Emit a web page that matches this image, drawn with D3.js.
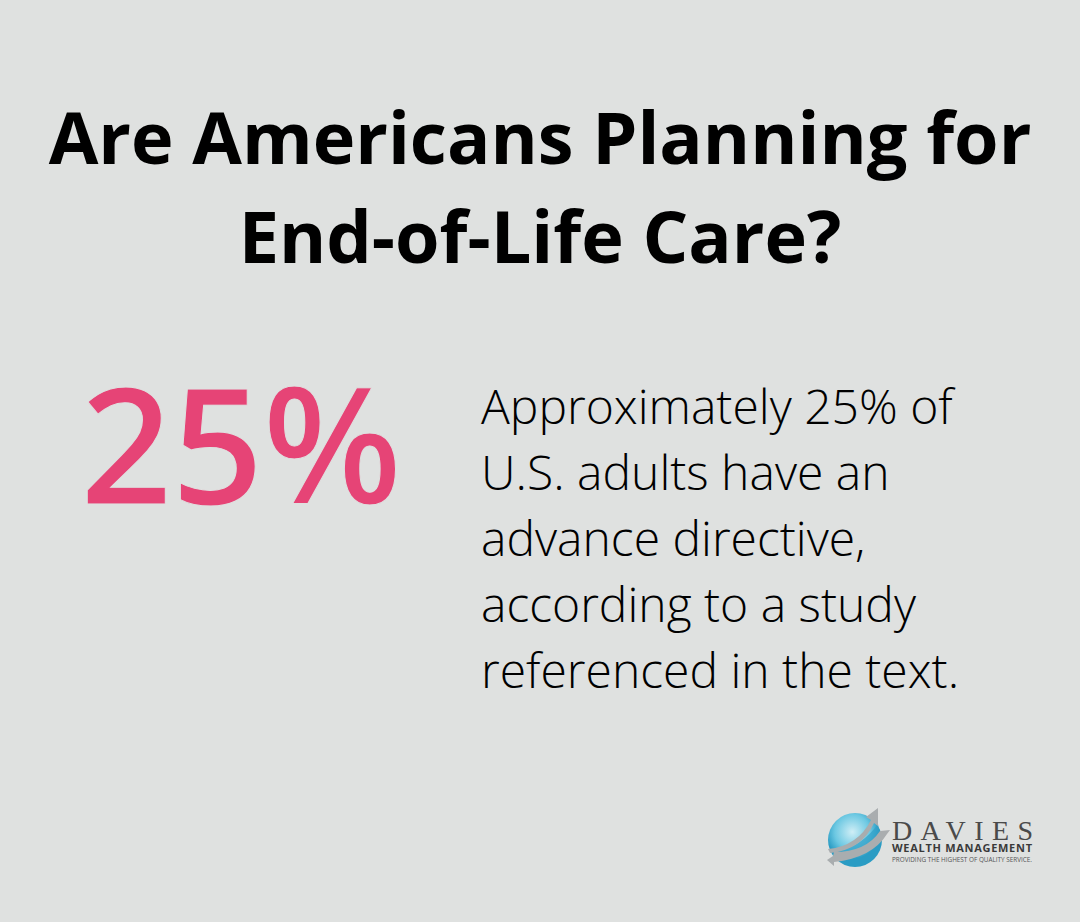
<!DOCTYPE html>
<html><head><meta charset="utf-8">
<script src="https://cdn.jsdelivr.net/npm/d3@7"></script>
<style>html,body{margin:0;padding:0;background:#dfe1e0;overflow:hidden}svg{display:block}</style>
</head><body><svg id="c" width="1080" height="922"></svg>
<script>
const titleLines = ["Are Americans Planning for","End-of-Life Care?"];
const statValue = [25];
const statSuffix = "%";
const bodyLines = ["Approximately 25% of","U.S. adults have an","advance directive,","according to a study","referenced in the text."];
const logoWord = "DAVIES";
const logoSub = "WEALTH MANAGEMENT";
const logoTag = "PROVIDING THE HIGHEST OF QUALITY SERVICE.";
const svg = d3.select("#c");
const F = "'Open Sans'";
const BG = "#dfe1e0";
svg.append("rect").attr("width",1080).attr("height",922).attr("fill",BG);
svg.selectAll(".t").data(titleLines).join("text").attr("class","t")
  .attr("x",540).attr("y",(d,i)=>164+i*99).attr("text-anchor","middle")
  .attr("font-family",F).attr("font-weight",700).attr("font-size",72).attr("fill","#000").text(d=>d);
svg.selectAll(".s").data(statValue).join("text").attr("class","s")
  .attr("x",240.5).attr("y",503.5).attr("text-anchor","middle")
  .attr("font-family",F).attr("font-weight",600).attr("font-size",161.5).attr("letter-spacing",-1)
  .attr("fill","#e64476").attr("stroke",BG).attr("stroke-width",1).attr("stroke-linejoin","miter").text(d=>d+statSuffix);
svg.selectAll(".b").data(bodyLines).join("text").attr("class","b")
  .attr("x",481).attr("y",(d,i)=>424+i*66).attr("font-family",F).attr("font-weight",300).attr("font-size",48).attr("fill","#000").text(d=>d);
// logo
const g = svg.append("g");
const defs = svg.append("defs");
const rg = defs.append("radialGradient").attr("id","glob").attr("cx","45%").attr("cy","35%");
rg.append("stop").attr("offset","0%").attr("stop-color","#cfeef6");
rg.append("stop").attr("offset","65%").attr("stop-color","#6cc8e2");
rg.append("stop").attr("offset","100%").attr("stop-color","#2a9cc4");
g.append("circle").attr("cx",855).attr("cy",840).attr("r",27).attr("fill","url(#glob)");
g.append("path").attr("d","M838 851 Q862 846 878 824 L881 838 Q866 854 840 856 Z").attr("fill","#2f9fc8").attr("opacity",.7);
g.append("path").attr("d","M828 849 Q858 846 871 820 L866 817 L878 808 L878 826 L874 823 Q862 850 830 853 Z").attr("fill","#a9adaf");
g.append("path").attr("d","M833 856 L827 860 L834 866 L834 862 Q872 858 887 834 L890 830 L880 831 Q866 852 834 852 Z").attr("fill","#a9adaf");
g.append("text").attr("x",892).attr("y",840).attr("font-family","'Liberation Serif'").attr("font-size",28)
  .attr("textLength",141).attr("lengthAdjust","spacing").attr("fill","#4a4a4a").text(logoWord);
g.append("text").attr("x",892).attr("y",852).attr("font-family",F).attr("font-weight",700).attr("font-size",11)
  .attr("textLength",140).attr("lengthAdjust","spacing").attr("fill","#3a3a3a").text(logoSub);
g.append("text").attr("x",892).attr("y",862).attr("font-family",F).attr("font-size",7.4)
  .attr("textLength",140).attr("lengthAdjust","spacingAndGlyphs").attr("fill","#555").text(logoTag);
</script></body></html>
